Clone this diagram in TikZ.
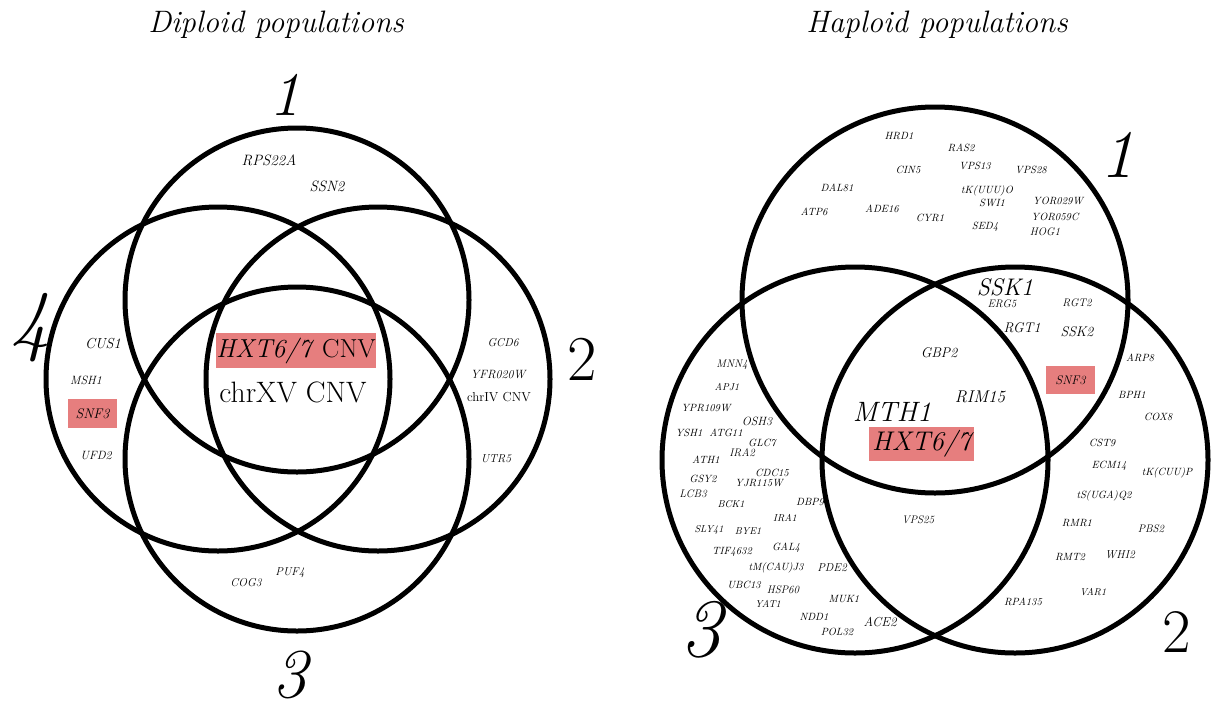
\documentclass[tikz,border=0pt]{standalone}
\definecolor{hlpink}{RGB}{230,126,126}
\tikzset{
  ring/.style={draw=black, line width=5pt},
  gene/.style={font=\fontsize{#1}{#1}\selectfont\itshape, inner sep=0pt},
  upt/.style={font=\fontsize{#1}{#1}\selectfont\upshape, inner sep=0pt},
  bignum/.style={font=\fontsize{#1}{#1}\selectfont\itshape, inner sep=0pt},
  bignumup/.style={font=\fontsize{#1}{#1}\selectfont\upshape, inner sep=0pt},
  hlbox/.style={fill=hlpink, inner sep=0pt},
  ttl/.style={font=\fontsize{31}{31}\selectfont\itshape, inner sep=0pt, anchor=base}
}
\begin{document}
\begin{tikzpicture}[x=1pt,y=-1pt]
\useasboundingbox[fill=white] (0,0) rectangle (1214,710);

% ---------- titles
\node[ttl] (tdip) at (276,32) {Diploid populations};
\node[ttl] (thap) at (937,32) {Haploid populations};

% ---------- highlight boxes (behind text)
\node[hlbox, minimum width=160pt, minimum height=35pt] (bhxtL) at (296,350.5) {};
\node[hlbox, minimum width=49pt, minimum height=29pt] (bsnfL) at (92.5,413.5) {};
\node[hlbox, minimum width=105pt, minimum height=34pt] (bhxtR) at (921.5,444) {};
\node[hlbox, minimum width=49pt, minimum height=28pt] (bsnfR) at (1070.5,380) {};

% ---------- left Venn (diploid)
\draw[ring] (297,300) circle[radius=172];
\draw[ring] (297,459) circle[radius=172];
\draw[ring] (218,379) circle[radius=172];
\draw[ring] (378,379) circle[radius=172];

\node[bignum=62] (dl1) at (285,95) {1};
\node[bignumup=64] (dl2) at (582,359) {2};
\node[bignum=70] (dl3) at (290,675) {3};
\node[bignum=80] (dl4) at (30,328) {4};

\node[gene=15] (rps22a) at (269,160) {RPS22A};
\node[gene=15] (ssn2) at (327,186) {SSN2};
\node[gene=14.5] (cus1) at (103,344) {CUS1};
\node[gene=12] (msh1) at (86,380) {MSH1};
\node[gene=14] (snf3L) at (bsnfL) {SNF3};
\node[gene=12] (ufd2) at (96,456) {UFD2};
\node[gene=11.5] (gcd6) at (503,343) {GCD6};
\node[gene=12] (yfr020w) at (498,375) {YFR020W};
\node[upt=13] (chriv) at (499,397) {chrIV CNV};
\node[gene=11.5] (utr5) at (496,459) {UTR5};
\node[gene=11.5] (cog3) at (246,583) {COG3};
\node[gene=11.5] (puf4) at (290,573) {PUF4};
\node[upt=26] (hxtL) at (bhxtL) {\textit{HXT6/7} CNV};
\node[upt=29.5] (chrxv) at (293,392) {chrXV CNV};

% ---------- right Venn (haploid)
\draw[ring] (935,300) circle[radius=193];
\draw[ring] (1015,460) circle[radius=193];
\draw[ring] (855,460) circle[radius=193];

\node[bignum=68] (hr1) at (1117,155) {1};
\node[bignumup=62] (hr2) at (1177,632) {2};
\node[bignum=83] (hr3) at (701,630) {3};

% region 1 only
\node[gene=10.5] (hrd1) at (899,136) {HRD1};
\node[gene=10.5] (cin5) at (908,170) {CIN5};
\node[gene=10.5] (dal81) at (837,188) {DAL81};
\node[gene=10.5] (atp6) at (814,212) {ATP6};
\node[gene=10.5] (ade16) at (882,209) {ADE16};
\node[gene=10.5] (cyr1) at (930,218) {CYR1};
\node[gene=10.5] (ras2) at (961,148) {RAS2};
\node[gene=10.5] (vps13) at (975,166) {VPS13};
\node[gene=10.5] (vps28) at (1031,170) {VPS28};
\node[gene=10.5] (tkuuuo) at (987,191) {tK(UUU)O};
\node[gene=10.5] (swi1) at (992,203) {SWI1};
\node[gene=10.5] (yor029w) at (1058,201) {YOR029W};
\node[gene=10.5] (yor059c) at (1055,217) {YOR059C};
\node[gene=10.5] (sed4) at (985,227) {SED4};
\node[gene=11] (hog1) at (1045,232) {HOG1};

% region 1 and 2
\node[gene=24] (ssk1) at (1005,287) {SSK1};
\node[gene=11] (erg5) at (1002,304) {ERG5};
\node[gene=11] (rgt2) at (1077,303) {RGT2};
\node[gene=14] (rgt1) at (1022,328) {RGT1};
\node[gene=14] (ssk2) at (1077,332) {SSK2};
\node[gene=12.5] (snf3R) at (bsnfR) {SNF3};

% center
\node[gene=14] (gbp2) at (939,353) {GBP2};
\node[gene=17] (rim15) at (980,397) {RIM15};
\node[gene=28] (mth1) at (892,412) {MTH1};
\node[gene=27] (hxtR) at (bhxtR) {HXT6/7};

% region 2 only
\node[gene=10.5] (arp8) at (1140,358) {ARP8};
\node[gene=10.5] (bph1) at (1132,395) {BPH1};
\node[gene=10.5] (cox8) at (1158,417) {COX8};
\node[gene=10.5] (cst9) at (1102,443) {CST9};
\node[gene=10.5] (ecm14) at (1109,466) {ECM14};
\node[gene=10.5] (tkcuup) at (1167,473) {tK(CUU)P};
\node[gene=10.5] (tsugaq2) at (1104,496) {tS(UGA)Q2};
\node[gene=10.5] (rmr1) at (1077,523) {RMR1};
\node[gene=11] (pbs2) at (1151,529) {PBS2};
\node[gene=10.5] (rmt2) at (1070,557) {RMT2};
\node[gene=11.5] (whi2) at (1120,555) {WHI2};
\node[gene=10] (var1) at (1093,592) {VAR1};
\node[gene=10.5] (rpa135) at (1023,602) {RPA135};

% region 2 and 3
\node[gene=11] (vps25) at (918,520) {VPS25};

% region 3 only
\node[gene=11] (mnn4) at (732,365) {MNN4};
\node[gene=10] (apj1) at (727,387) {APJ1};
\node[gene=10.5] (ypr109w) at (706,408) {YPR109W};
\node[gene=12] (osh3) at (757,421) {OSH3};
\node[gene=10.5] (ysh1) at (689,433) {YSH1};
\node[gene=10.5] (atg11) at (726,433) {ATG11};
\node[gene=10.5] (glc7) at (762,443) {GLC7};
\node[gene=11] (ira2) at (742,453) {IRA2};
\node[gene=10.5] (ath1) at (706,460) {ATH1};
\node[gene=10.5] (cdc15) at (772,473) {CDC15};
\node[gene=10.5] (gsy2) at (703,479) {GSY2};
\node[gene=10.5] (yjr115w) at (759,483) {YJR115W};
\node[gene=11] (lcb3) at (693,494) {LCB3};
\node[gene=10] (bck1) at (731,504) {BCK1};
\node[gene=10.5] (dbp9) at (810,502) {DBP9};
\node[gene=10] (ira1) at (785,518) {IRA1};
\node[gene=10] (sly41) at (709,530) {SLY41};
\node[gene=10] (bye1) at (748,531) {BYE1};
\node[gene=10.5] (tif4632) at (732,552) {TIF4632};
\node[gene=10.5] (gal4) at (786,548) {GAL4};
\node[gene=10.5] (tmcauj3) at (776,568) {tM(CAU)J3};
\node[gene=11.5] (pde2) at (832,568) {PDE2};
\node[gene=10.5] (ubc13) at (744,585) {UBC13};
\node[gene=11] (hsp60) at (783,590) {HSP60};
\node[gene=10] (yat1) at (768,604) {YAT1};
\node[gene=10.5] (muk1) at (844,599) {MUK1};
\node[gene=10.5] (ndd1) at (814,617) {NDD1};
\node[gene=10.5] (pol32) at (837,632) {POL32};
\node[gene=13] (ace2) at (880,622) {ACE2};
\end{tikzpicture}
\end{document}
